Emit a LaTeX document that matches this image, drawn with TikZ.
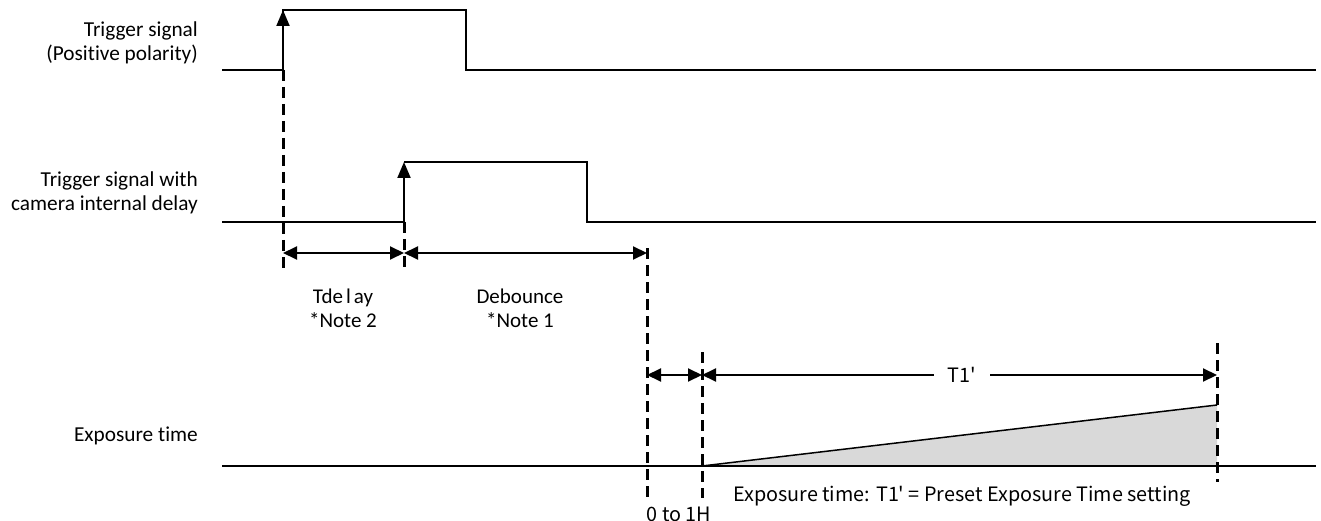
\documentclass[tikz,border=0pt]{standalone}
\usepackage{fontspec}
\setmainfont{Carlito}[Ligatures={NoCommon}]
\newfontfamily\gothic{Noto Sans CJK JP}
\usetikzlibrary{arrows.meta}
\tikzset{
  sig/.style={line width=2pt, line join=miter},
  guide/.style={line width=3pt, dash pattern=on 11pt off 6pt},
  dim/.style={line width=2pt, {Triangle[length=14pt,width=13pt]}-{Triangle[length=14pt,width=13pt]}},
  edge/.style={line width=2pt, -{Triangle[length=16pt,width=13pt]}},
  lbl/.style={font=\fontsize{21.3}{24}\selectfont, inner sep=0pt, align=right},
  clbl/.style={font=\fontsize{21}{24}\selectfont, inner sep=0pt, align=center},
  glbl/.style={font=\gothic\fontsize{19.8}{22}\selectfont, inner sep=0pt}
}
\begin{document}
\begin{tikzpicture}[x=1pt,y=-1pt]
\useasboundingbox (0,0) rectangle (1321,521);
% signal 1
\coordinate (s1a) at (222,70);
\coordinate (s1r) at (283,70);
\coordinate (s1t) at (283,10);
\coordinate (s1h) at (466,10);
\coordinate (s1f) at (466,70);
\coordinate (s1e) at (1316,70);
\draw[sig] (s1r) -- (s1t) -- (s1h) -- (s1f) -- (s1e);
\draw[sig] (s1a) -- (s1r);
\draw[edge] (s1r) -- (s1t);
\node[lbl, anchor=east] (l1) at (198,43) {Trigger signal\\(Positive polarity)};
% signal 2
\coordinate (s2a) at (222,222);
\coordinate (s2r) at (404,222);
\coordinate (s2t) at (404,162);
\coordinate (s2h) at (587,162);
\coordinate (s2f) at (587,222);
\coordinate (s2e) at (1316,222);
\draw[sig] (s2a) -- (s2r);
\draw[sig] (s2t) -- (s2h) -- (s2f) -- (s2e);
\draw[edge] (s2r) -- (s2t);
\node[lbl, anchor=east] (l2) at (198,193) {Trigger signal with\\camera internal delay};
% exposure
\coordinate (e0) at (222,466);
\coordinate (e1) at (702,466);
\coordinate (e2) at (1217,466);
\coordinate (e2t) at (1217,405);
\coordinate (e3) at (1316,466);
\fill[gray!30] (e1) -- (e2t) -- (e2) -- cycle;
\draw[line width=1.5pt] (e1) -- (e2t);
\draw[sig] (e0) -- (e3);
\node[lbl, anchor=east] (l3) at (198,436) {Exposure time};
% guides
\coordinate (g1a) at (283,70);  \coordinate (g1b) at (283,268);
\coordinate (g2a) at (404,222); \coordinate (g2b) at (404,268);
\coordinate (g3a) at (647,248); \coordinate (g3b) at (647,498);
\coordinate (g4a) at (702,352); \coordinate (g4b) at (702,498);
\coordinate (g5a) at (1217,343); \coordinate (g5b) at (1217,482);
\draw[guide] (g1a) -- (g1b);
\draw[guide] (g2a) -- (g2b);
\draw[guide] (g3a) -- (g3b);
\draw[guide] (g4a) -- (g4b);
\draw[guide] (g5a) -- (g5b);
% dimensions
\coordinate (d1) at (283,253); \coordinate (d2) at (404,253); \coordinate (d3) at (647,253);
\draw[dim] (d1) -- (d2);
\draw[dim] (d2) -- (d3);
\coordinate (d4) at (647,375); \coordinate (d5) at (702,375); \coordinate (d6) at (1217,375);
\draw[dim] (d4) -- (d5);
\draw[dim] (d5) -- (d6);
\node[glbl, fill=white, inner xsep=14pt, inner ysep=3pt] (t1) at (962,375) {T1'};
% labels
\node[clbl] (tdel) at (343,308) {Tde\kern3pt l\kern3pt ay\\*Note 2};
\node[clbl] (deb) at (520,308) {Debounce\\*Note 1};
\node[glbl] (expnote) at (962,496) {Exposure time: T1' = Preset Exposure Time setting};
\node[glbl] (h) at (679,514) {0 to 1H};
\end{tikzpicture}
\end{document}
